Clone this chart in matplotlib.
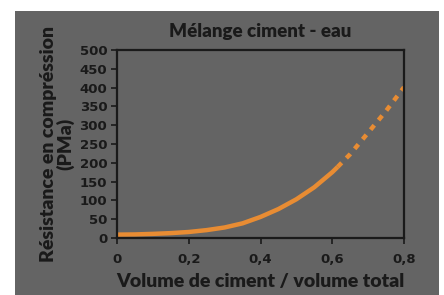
import matplotlib
matplotlib.use('Agg')
import matplotlib.pyplot as plt
from matplotlib.patches import Rectangle

# data
ratio_solid = [0.0, 0.05, 0.1, 0.15, 0.2, 0.25, 0.3, 0.35, 0.4, 0.45, 0.5, 0.55, 0.6, 0.615]
strength_solid = [9, 9.5, 11, 13, 16, 21, 28, 39, 56, 77, 103, 135, 175, 189]
ratio_dotted = [0.615, 0.65, 0.7, 0.75, 0.8]
strength_dotted = [189, 223, 280, 338, 401]

xticks = [0, 0.2, 0.4, 0.6, 0.8]
xticklabels = ['0', '0,2', '0,4', '0,6', '0,8']
yticks = [0, 50, 100, 150, 200, 250, 300, 350, 400, 450, 500]

bg = '#646464'
ink = '#1a1a1a'
orange = '#E88C33'

plt.rcParams['font.family'] = ['Lato', 'DejaVu Sans']
W = 'heavy'

fig = plt.figure(figsize=(4.44, 2.95), dpi=100)
fig.patch.set_facecolor('white')
fig.patches.append(Rectangle((15/444, 0), 424/444, 284/295, transform=fig.transFigure,
                             facecolor=bg, edgecolor='none', zorder=-10))

ax = fig.add_axes([117/444, 57/295, 287/444, 188/295])
ax.set_facecolor(bg)
ax.plot(ratio_solid, strength_solid, color=orange, lw=3.2, solid_capstyle='butt')
ax.plot(ratio_dotted, strength_dotted, color=orange, lw=3.2, linestyle=(0, (1.3, 1.5)),
        dash_capstyle='butt')

ax.set_xlim(0, 0.8)
ax.set_ylim(0, 500)
tickfont = dict(family='DejaVu Sans', fontweight='bold', fontsize=9.5)
ax.set_xticks(xticks, labels=xticklabels, **tickfont)
ax.set_yticks(yticks, labels=[str(v) for v in yticks], **tickfont)
for s in ax.spines.values():
    s.set_color(ink)
    s.set_linewidth(1.6)
ax.tick_params(colors=ink, width=1.2, length=4)
ax.tick_params(axis='x', pad=7)
ax.tick_params(axis='y', pad=3)

ax.set_title('Mélange ciment - eau', color=ink, fontsize=13.5, fontweight=W, pad=9)
ax.set_xlabel('Volume de ciment / volume total', color=ink, fontsize=14,
              fontweight=W, labelpad=5)
ax.set_ylabel('Résistance en compréssion\n(PMa)', color=ink, fontsize=14,
              fontweight=W, labelpad=4, linespacing=0.9)

fig.savefig('out.png', dpi=100)
